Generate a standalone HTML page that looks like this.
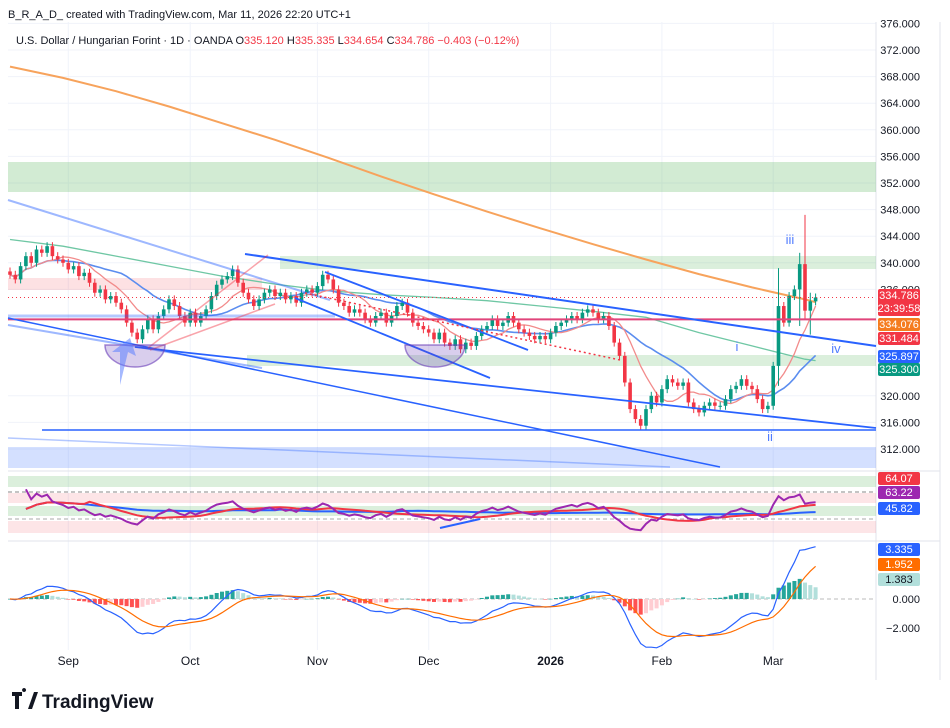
<!DOCTYPE html>
<html><head><meta charset="utf-8"><style>
body{margin:0;background:#fff;font-family:"Liberation Sans",sans-serif}
svg{display:block}
text{font-family:"Liberation Sans",sans-serif}
</style></head><body>
<svg id="c" width="950" height="728" viewBox="0 0 950 728">
<rect width="950" height="728" fill="#fff"/>
<text x="8" y="18" font-size="11" fill="#131722">B_R_A_D_ created with TradingView.com, Mar 11, 2026 22:20 UTC+1</text>
<g id="grid"></g>
<g id="zones"></g>
<g id="marks"></g>
<g id="draw"></g>
<g id="axis"></g>
<text x="16" y="44" font-size="11" fill="#131722">U.S. Dollar / Hungarian Forint · 1D · OANDA <tspan fill="#131722">O</tspan><tspan fill="#f23645">335.120</tspan> <tspan>H</tspan><tspan fill="#f23645">335.335</tspan> <tspan>L</tspan><tspan fill="#f23645">334.654</tspan> <tspan>C</tspan><tspan fill="#f23645">334.786</tspan> <tspan fill="#f23645">−0.403 (−0.12%)</tspan></text>
<g>
<path d="M12 692h10v4h-3v13h-4v-13h-3z M24 692a2 2 0 1 1 0.1 0z" fill="#131722"/>
<path d="M28 709l6-17h4l-6 17z" fill="#131722"/>
<text x="42" y="708" font-size="19" font-weight="bold" fill="#131722">TradingView</text>
</g>
</svg>
<script>
const closes=[338.2,337.5,339.5,341,340,342,341.5,342.5,341,340.5,
340,339,339.5,338,338.5,337,335.5,336,334.5,335,
334,333,331,329.5,328.5,330,331.5,330,332,333,
334.5,333.5,332,331,332.5,331,332,333,335,336.7,
337.5,338,339,337,335.5,334.5,333.5,334.5,335.5,336,
335,335.5,334.5,335,334,335.5,336,335.5,336.5,338.2,
337.5,336,334,333.5,332.5,333,332.5,331.5,331,332,
332.5,331,332,333.5,334,332.5,331,330.5,330,329.5,
328.5,329.5,328,327.5,328.5,327,328,327.5,329,330,
330.5,331.5,330.5,331,332,331,330,329.5,329,328.5,
329,328.5,329.5,330.5,331,331.5,332,331.5,332.5,333,
332.5,331.5,332,330.5,328,326,322,318,316.5,315.5,
318,320,319,321,322.5,322,321.5,322,319,318,
317.5,318.5,319,318.5,318.5,319.5,321,321.5,322.5,321.5,
321,319.5,318,318.5,324.5,333.5,331,335,336,339.8,
332.8,334.2,334.786];
const spikeBars=[145,149,150,151];
const spikeHighs=[339.2,341.5,347.2,335.5];
const spikeLows=[321.5,330.5,331.5,329.2];
const maBars=[0,10,20,30,40,50,60,70,80,90,100,110,120,130,140,150,152];
const ma200=[369.5,367.8,365.8,363.5,361,358.5,355.8,353,350.3,347.7,345.2,342.8,340.5,338.3,336.3,334.5,334.08];
const ma100=[343.5,342.5,341,339.5,338,336.8,335.8,335.2,334.8,334.3,333.5,332.7,331.8,329.5,327.5,325.5,325.3];
const priceTicks=[376,372,368,364,360,356,352,348,344,340,336,320,316,312];
const monthLabels=["Sep","Oct","Nov","Dec","2026","Feb","Mar"];
const monthBars=[11,34,58,79,102,123,144];

const NS="http://www.w3.org/2000/svg";
const xOf=i=>10+i*5.3;
const yP=p=>50+(372-p)*6.65;
const yR=r=>510-(r-50)*0.62;
const yM=m=>599-m*14.5;
function el(tag,attrs,parent,txt){const e=document.createElementNS(NS,tag);for(const k in attrs)e.setAttribute(k,attrs[k]);if(txt!==undefined)e.textContent=txt;document.getElementById(parent).appendChild(e);return e;}
const PR=876;
monthBars.forEach((b,k)=>{const g=el('line',{x1:xOf(b),x2:xOf(b),y1:22,y2:650,stroke:'#f0f3fa'},'grid');


const t=el('text',{x:xOf(b),y:665,'font-size':12,'text-anchor':'middle',fill:'#131722','font-weight':monthLabels[k]==='2026'?'bold':'normal'},'axis',monthLabels[k]);

});
priceTicks.forEach(p=>{const g=el('line',{x1:8,x2:PR,y1:yP(p),y2:yP(p),stroke:'#f0f3fa'},'grid');


const t=el('text',{x:920,y:yP(p)+4,'font-size':11,'text-anchor':'end',fill:'#131722'},'axis',p.toFixed(3));

});
el('line',{x1:PR,x2:PR,y1:22,y2:680,stroke:'#e0e3eb'},'grid');
el('line',{x1:940,x2:940,y1:22,y2:680,stroke:'#e0e3eb'},'grid');
el('line',{x1:8,x2:940,y1:471,y2:471,stroke:'#e0e3eb'},'grid');
el('line',{x1:8,x2:940,y1:541,y2:541,stroke:'#e0e3eb'},'grid');
const Z=(x1,y1,x2,y2,f,n)=>{const r=el('rect',{x:x1,y:y1,width:x2-x1,height:y2-y1,fill:f},'zones');};
Z(8,162,PR,192,'rgba(76,175,80,0.25)','resistance-zone-352');
Z(280,256,PR,269,'rgba(76,175,80,0.2)','resistance-zone-340');
Z(247,355,PR,366,'rgba(76,175,80,0.2)','support-zone-325');
Z(8,278,262,290,'rgba(242,54,69,0.15)','pink-zone');
Z(8,447,PR,468,'rgba(41,98,255,0.2)','support-zone-312');
Z(8,476,PR,487,'rgba(76,175,80,0.2)','rsi-upper-green');
Z(8,493,PR,503,'rgba(242,54,69,0.13)','rsi-upper-pink');
Z(8,506,PR,516,'rgba(76,175,80,0.2)','rsi-mid-green');
Z(8,521,PR,533,'rgba(242,54,69,0.13)','rsi-lower-pink');
el('line',{x1:8,x2:PR,y1:492,y2:492,stroke:'#888','stroke-dasharray':'4 3'},'zones');
el('line',{x1:8,x2:PR,y1:519,y2:519,stroke:'#aaa','stroke-dasharray':'4 3'},'zones');
el('line',{x1:8,x2:PR,y1:599,y2:599,stroke:'#bbb','stroke-dasharray':'4 3'},'zones');
function poly(pts,stroke,w,name,parent,extra){const p=el('polyline',Object.assign({points:pts.map(q=>q[0].toFixed(1)+','+q[1].toFixed(1)).join(' '),fill:'none',stroke:stroke,'stroke-width':w},extra||{}),parent||'marks');return p;}
poly(maBars.map((b,k)=>[xOf(b),yP(ma200[k])]),'#f7a35c',2,'ma-200');
poly(maBars.map((b,k)=>[xOf(b),yP(ma100[k])]),'#6fc7a4',1.3,'ma-100');
function sma(a,n){return a.map((v,i)=>{const s=a.slice(Math.max(0,i-n+1),i+1);return s.reduce((x,y)=>x+y,0)/s.length;});}
const ma20=sma(closes,20),ma9=sma(closes,9);
poly(ma20.map((v,i)=>[xOf(i),yP(v)]),'#5b8def',1.6,'ma-20');
poly(ma9.map((v,i)=>[xOf(i),yP(v)]),'#f28b8b',1.3,'ma-9');
closes.forEach((c,i)=>{const o=i?closes[i-1]:c+0.5;const up=c>=o;const col=up?'#089981':'#f23645';
let hi=Math.max(o,c)+0.6,lo=Math.min(o,c)-0.6;const k=spikeBars.indexOf(i);if(k>=0){hi=spikeHighs[k];lo=spikeLows[k];}
const x=xOf(i);
const w=el('line',{x1:x,x2:x,y1:yP(hi),y2:yP(lo),stroke:col,'stroke-width':1},'marks');


const b=el('rect',{x:x-1.8,y:yP(Math.max(o,c)),width:3.6,height:Math.max(1,Math.abs(yP(o)-yP(c))),fill:col},'marks');

});
const L=(x1,y1,x2,y2,s,w,n,dash)=>{const l=el('line',{x1,y1,x2,y2,stroke:s,'stroke-width':w,'stroke-dasharray':dash||'none'},'draw');};
L(8,yP(331.484),PR,yP(331.484),'#e0457b',2,'level-331');
L(8,yP(334.786),PR,yP(334.786),'#f23645',1,'last-price-line','1 3');
L(245,254,PR,346,'#2962ff',2,'upper-trendline');
L(135,347,PR,428,'#2962ff',1.8,'lower-trendline');
L(8,318,720,467,'#2962ff',1.5,'channel-bottom');
L(42,430,PR,430,'#2962ff',1.5,'support-312-line');
L(8,438,670,467,'rgba(41,98,255,0.35)',1.5,'faint-line');
L(8,200,330,300,'rgba(41,98,255,0.45)',2,'light-channel-top');
L(8,325,262,368,'rgba(41,98,255,0.45)',2,'light-channel-bottom');
L(8,316,335,316,'rgba(41,98,255,0.35)',3,'light-horizontal');
L(325,272,528,350,'#2962ff',1.8,'nov-channel-top');
L(295,298,490,378,'#2962ff',1.8,'nov-channel-bottom');
L(148,348,268,255,'rgba(242,54,69,0.45)',1.5,'pink-channel-top');
L(150,350,275,304,'rgba(242,54,69,0.45)',1.5,'pink-channel-bottom');
L(305,293,620,360,'#f23645',1.5,'red-dotted','2 3');
[[135,345],[435,345]].forEach(([cx,cy])=>{const p=el('path',{d:`M${cx-30} ${cy} A30 22 0 0 0 ${cx+30} ${cy}Z`,fill:'rgba(103,58,183,0.25)',stroke:'rgba(103,58,183,0.6)','stroke-width':1.5},'draw');});
{const p=el('path',{d:'M120 385 L128 352 L136 356 L130 338 L112 352 L120 352Z',fill:'rgba(91,127,255,0.55)'},'draw');}
[['iii',790,244],['i',737,351],['iv',836,353],['ii',770,441]].forEach(([t,x,y])=>{const e=el('text',{x,y,'font-size':13,fill:'#4f7bff','text-anchor':'middle'},'draw',t);});
const rsi=[];let ag=0,al=0;
closes.forEach((c,i)=>{if(i===0){rsi.push(50);return;}const d=c-closes[i-1];const g=Math.max(d,0),l=Math.max(-d,0);
if(i<=14){ag+=g/14;al+=l/14;}else{ag=(ag*13+g)/14;al=(al*13+l)/14;}rsi.push(al===0?100:100-100/(1+ag/al));});
const rsiMa=sma(rsi,14),rsiSlow=sma(rsi,50);
poly(rsiSlow.slice(3).map((v,i)=>[xOf(i+3),yR(v)]),'#2962ff',2,'rsi-slow-ma');
poly(rsiMa.slice(3).map((v,i)=>[xOf(i+3),yR(v)]),'#f23645',2,'rsi-ma');
poly(rsi.slice(3).map((v,i)=>[xOf(i+3),Math.max(476,Math.min(536,yR(v)))]),'#9c27b0',2,'rsi-line');
L(440,528,480,519,'#2962ff',2,'rsi-divergence');
function ema(a,n){const k=2/(n+1);let e=a[0];return a.map(v=>e=v*k+e*(1-k));}
const e12=ema(closes,12),e26=ema(closes,26);const macd=e12.map((v,i)=>v-e26[i]);const sig=ema(macd,9);
macd.forEach((m,i)=>{const h=(m-sig[i])*0.6;const prev=i?(macd[i-1]-sig[i-1])*0.6:0;const col=h>=0?(h>=prev?'#26a69a':'#b2dfdb'):(h<=prev?'#ff5252':'#ffcdd2');
const r=el('rect',{x:xOf(i)-2,y:Math.min(yM(0),yM(h)),width:4,height:Math.max(0.5,Math.abs(yM(h)-yM(0))),fill:col},'marks');

});
poly(macd.map((v,i)=>[xOf(i),yM(v)]),'#2962ff',1.2,'macd-line');
poly(sig.map((v,i)=>[xOf(i),yM(v)]),'#ff6d00',1.2,'signal-line');
[[0,'0.000'],[-2,'−2.000']].forEach(([v,t])=>{const e=el('text',{x:920,y:yM(v)+4,'font-size':11,'text-anchor':'end',fill:'#131722'},'axis',t);});
const T=(y,h,bg,fg,lines,n)=>{const r=el('rect',{x:878,y,width:42,height:h,fill:bg,rx:2},'axis');
lines.forEach((s,k)=>el('text',{x:899,y:y+10+k*13,'font-size':11,'text-anchor':'middle',fill:fg},'axis',s));};
T(289,27,'#f23645','#fff',['334.786','23:39:58'],'last-price-tag');
T(318,13,'#f57c1f','#fff',['334.076'],'ma200-tag');
T(332,13,'#f23645','#fff',['331.484'],'level-tag');
T(350,13,'#2962ff','#fff',['325.897'],'ma20-tag');
T(363,13,'#089981','#fff',['325.300'],'ma100-tag');
T(472,13,'#f23645','#fff',['64.07'],'rsi-ma-tag');
T(486,13,'#9c27b0','#fff',['63.22'],'rsi-tag');
T(502,13,'#2962ff','#fff',['45.82'],'rsi-slow-tag');
T(543,13,'#2962ff','#fff',['3.335'],'macd-tag');
T(558,13,'#ff6d00','#fff',['1.952'],'signal-tag');
T(573,13,'#b2dfdb','#131722',['1.383'],'histogram-tag');
</script>
</body></html>
